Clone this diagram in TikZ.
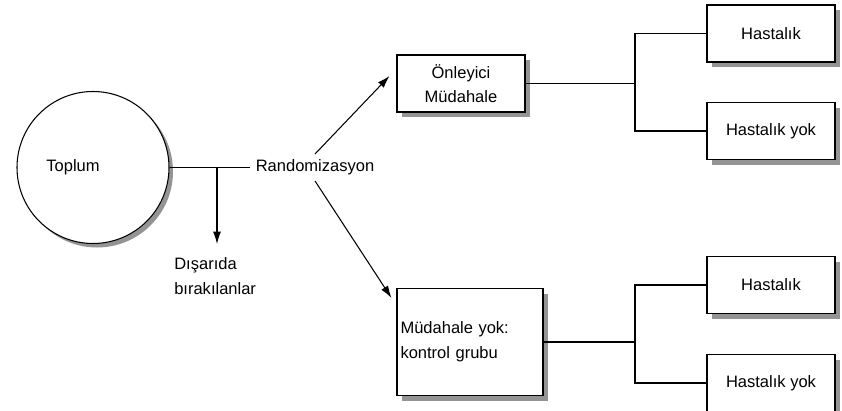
\documentclass[tikz,border=0pt]{standalone}
\usepackage{fontspec}
\setmainfont{Liberation Sans}
\usetikzlibrary{arrows.meta}

\begin{document}
\begin{tikzpicture}[
		font=\fontsize{9.4}{14}\selectfont,
		line width=0.6pt,
		boxshadow/.style={preaction={draw=none, fill=black!42, transform canvas={shift={(#1,-#1)}}}},
		boxshadow/.default=0.1,
		outcome/.style={rectangle, draw, fill=white, boxshadow, minimum width=2.56cm, minimum height=1.14cm, inner sep=0pt}
	]
		\useasboundingbox (0,0) rectangle (16.84,-8.2);

		\node (topl) at (1.86,-3.35) [circle, draw, fill=white, minimum size=3.04cm, boxshadow=0.08] {};
		\node (toplt) at (1.46,-3.35) {Toplum};

		\node (rnd) at (5.0,-3.35) [anchor=west, inner sep=3pt] {Randomizasyon};
		\node (disa) at (3.44,-5.11) [anchor=north west, align=left, inner sep=1pt] {Dışarıda\\bırakılanlar};
		\coordinate (cut) at (4.34,-3.35);
		\coordinate (dd) at (4.34,-4.88);

		\begin{scope}[every node/.style={rectangle, draw, fill=white, boxshadow}]
			\node (onl) at (9.22,-1.67) [minimum width=2.56cm, minimum height=1.14cm, align=center] {Önleyici\\Müdahale};
			\node (mudy) at (9.4,-6.84) [minimum width=2.92cm, minimum height=2.14cm, text width=2.78cm, inner xsep=0.07cm, align=left] {Müdahale yok:\\kontrol grubu};
		\end{scope}

		\node (has1) at (15.42,-0.67) [outcome] {Hastalık};
		\node (hy1) at (15.42,-2.62) [outcome] {Hastalık yok};
		\node (has2) at (15.42,-5.70) [outcome] {Hastalık};
		\node (hy2) at (15.42,-7.66) [outcome] {Hastalık yok};

		\coordinate (j1) at (12.7,-1.67);
		\coordinate (j2) at (12.7,-6.84);

		\begin{scope}[every edge/.style={draw=black, line width=0.6pt}]
			\path [-] (topl.east) edge (rnd.west);
			\path [-] (onl.east) edge (j1);
			\path [-] (mudy.east) edge (j2);
		\end{scope}

		\draw (has1.west) -| (j1) |- (hy1.west);
		\draw (has2.west) -| (j2) |- (hy2.west);

		\draw [-{Latex[length=7pt,width=4.5pt]}] (cut) -- (dd);
		\draw [-{Latex[length=7pt,width=4.5pt]}] (rnd.north) -- ([shift={(-0.14,0.15)}]onl.west);
		\draw [-{Latex[length=7pt,width=4.5pt]}] (rnd.south) -- ([shift={(-0.1,-0.2)}]mudy.north west);

	\end{tikzpicture}
\end{document}
